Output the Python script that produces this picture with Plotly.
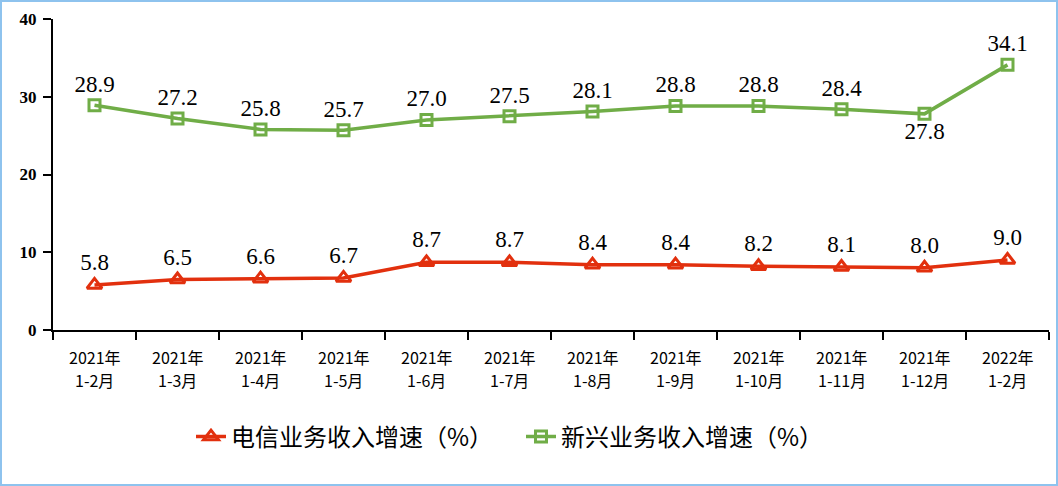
import plotly.graph_objects as go

years = ["2021年"] * 11 + ["2022年"]
months = ["1-2月", "1-3月", "1-4月", "1-5月", "1-6月", "1-7月", "1-8月", "1-9月",
          "1-10月", "1-11月", "1-12月", "1-2月"]
categories = [f"{y}{m}" for y, m in zip(years, months)]
telecom = [5.8, 6.5, 6.6, 6.7, 8.7, 8.7, 8.4, 8.4, 8.2, 8.1, 8.0, 9.0]
emerging = [28.9, 27.2, 25.8, 25.7, 27.0, 27.5, 28.1, 28.8, 28.8, 28.4, 27.8, 34.1]
names = ["电信业务收入增速（%）", "新兴业务收入增速（%）"]
y_ticks = [0, 10, 20, 30, 40]

RED = "#E2300E"
GREEN = "#70AD47"
label_font = dict(family="Liberation Serif, Times New Roman, serif", size=23, color="black")
tick_font = dict(family="Noto Sans CJK SC", size=16, color="black")

fig = go.Figure()
fig.add_trace(go.Scatter(
    x=categories, y=telecom, name=names[0], mode="lines+markers+text",
    line=dict(color=RED, width=3.5),
    marker=dict(symbol="triangle-up-open", size=13, color=RED, line=dict(width=3, color=RED)),
    text=[f"{v:.1f}" for v in telecom], textposition="top center", textfont=label_font,
    cliponaxis=False,
))
pos = ["bottom center" if i == 10 else "top center" for i in range(len(emerging))]
fig.add_trace(go.Scatter(
    x=categories, y=emerging, name=names[1], mode="lines+markers+text",
    line=dict(color=GREEN, width=3.5),
    marker=dict(symbol="square-open", size=11, color=GREEN, line=dict(width=3, color=GREEN)),
    text=[f"{v:.1f}" for v in emerging], textposition=pos, textfont=label_font,
    cliponaxis=False,
))

L, R, T, B = 53, 9, 19, 156
W, H = 1058, 486
pw, ph = W - L - R, H - T - B

annotations = []
for c, yr, mo in zip(categories, years, months):
    annotations.append(dict(x=c, xref="x", y=-(357 - (H - B)) / ph, yref="paper", text=yr,
                            showarrow=False, font=tick_font, xanchor="center", yanchor="middle"))
    annotations.append(dict(x=c, xref="x", y=-(380 - (H - B)) / ph, yref="paper", text=mo,
                            showarrow=False, font=tick_font, xanchor="center", yanchor="middle"))

fig.update_layout(
    width=W, height=H,
    margin=dict(l=L, r=R, t=T, b=B),
    plot_bgcolor="white", paper_bgcolor="white",
    showlegend=True,
    legend=dict(orientation="h", x=(521 - L) / pw, xanchor="center", y=-(437 - (H - B)) / ph, yanchor="middle",
                font=dict(family="Noto Sans CJK SC", size=24, color="black"),
                itemwidth=30, traceorder="normal", entrywidth=285),
    xaxis=dict(
        type="category", range=[-0.5, len(categories) - 0.5], autorange=False,
        showline=True, linecolor="black", linewidth=2, showticklabels=False,
        ticks="outside", tickson="boundaries", ticklen=8, tickcolor="black", tickwidth=1.5,
        showgrid=False, zeroline=False,
    ),
    yaxis=dict(
        range=[0, 40], tickvals=y_ticks, showline=True, linecolor="black", linewidth=2,
        ticks="outside", ticklen=8, tickcolor="black", tickwidth=1.5, ticklabelstandoff=3,
        tickfont=dict(family="Liberation Serif, Times New Roman, serif", size=17, color="black", weight="bold"),
        showgrid=False, zeroline=False,
    ),
    annotations=annotations,
    shapes=[dict(type="rect", xref="paper", yref="paper",
                 x0=-(L - 1) / pw, x1=1 + (R - 1) / pw, y0=-(B - 1) / ph, y1=1 + (T - 1) / ph,
                 line=dict(color="#8EC3EE", width=2), fillcolor="rgba(0,0,0,0)")],
)

fig.write_html("out.html", config={"displayModeBar": False},
               post_script="document.body.style.margin='0';document.body.style.overflow='hidden';")
